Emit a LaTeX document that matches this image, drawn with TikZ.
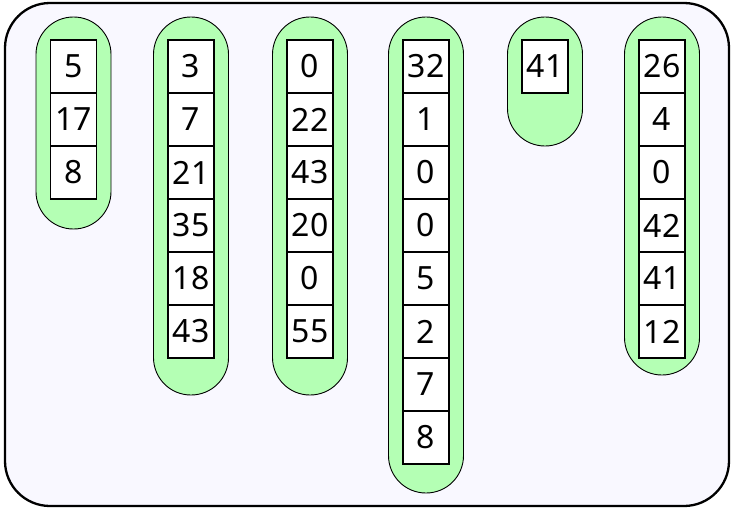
\documentclass[tikz,border=0pt]{standalone}
\usepackage{fontspec}
\setmainfont{Noto Sans}
\usepackage{xcolor}
\usetikzlibrary{positioning}
\definecolor{framefill}{RGB}{249,248,255}
\definecolor{pillgreen}{RGB}{180,255,180}

\begin{document}
\begin{tikzpicture}[
  x=1pt, y=-1pt,
  frame/.style={draw=black, fill=framefill, line width=2.3pt, rounded corners=45pt},
  pill/.style={draw=black, fill=pillgreen, line width=0.9pt, rounded corners=37.4pt},
  cell/.style={draw=black, fill=white, line width=1.7pt, minimum width=46pt,
    minimum height=53pt, inner sep=0pt, font=\fontsize{32}{32}\selectfont}
]
  \useasboundingbox (0,0) rectangle (731,509);
  \draw[frame] (5,3) rectangle (729,506);
  % one pill per column: centre x, pill bottom, then the stacked values
  \foreach \cx/\pb/\vals [count=\c] in {73.5/229/{5,17,8},
      191/395/{3,7,21,35,18,43},
      310/395/{0,22,43,20,0,55},
      426/493/{32,1,0,0,5,2,7,8},
      545/146/{41},
      662/375/{26,4,0,42,41,12}} {
    \draw[pill] (\cx-37.5,17) rectangle (\cx+37.5,\pb);
    \foreach \v [count=\r] in \vals {
      \node[cell] (cell\c-\r) at (\cx,13.5+53*\r) {\v};
    }
  }
\end{tikzpicture}
\end{document}
